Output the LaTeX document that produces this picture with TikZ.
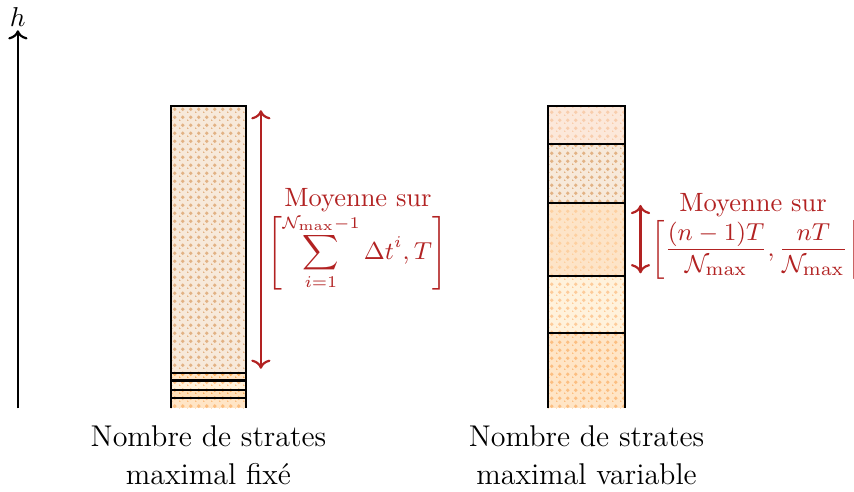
\documentclass[tikz,border=0pt]{standalone}
\usepackage{amsmath}
\usepackage{tikz}
\usetikzlibrary{arrows.meta, positioning, calc, patterns}
\definecolor{avgRed}{RGB}{178, 34, 34}
\definecolor{peachLight}{RGB}{252, 232, 218}
\definecolor{beigeDot}{RGB}{247, 233, 218}
\definecolor{bisque}{RGB}{253, 228, 200}
\definecolor{creamLight}{RGB}{255, 242, 220}
\definecolor{orangeLight}{RGB}{255, 229, 198}
\definecolor{orangeMid}{RGB}{255, 224, 184}
\definecolor{tanDot}{RGB}{226, 178, 132}
\definecolor{orangeDot}{RGB}{252, 190, 128}
\definecolor{orangeStrong}{RGB}{248, 172, 90}
\definecolor{paleDot}{RGB}{248, 205, 172}

% staggered dots, a little larger than crosshatch dots
\pgfdeclarepatternformonly{stratedots}{\pgfpointorigin}{\pgfqpoint{3pt}{3pt}}{\pgfqpoint{3pt}{3pt}}{
    \pgfpathcircle{\pgfqpoint{0pt}{0pt}}{.75pt}
    \pgfpathcircle{\pgfqpoint{1.5pt}{1.5pt}}{.75pt}
    \pgfusepath{fill}
}

\begin{document}
\begin{tikzpicture}[
    strate/.style 2 args={
        fill=#1,
        postaction={pattern=stratedots, pattern color=#2}
    },
    border/.style={
        draw=black,
        thick
    },
    measure/.style={
        <->,
        thick,
        color=avgRed
    },
    avgtext/.style={
        text=avgRed,
        align=center,
        font=\fontsize{9.7}{11.5}\selectfont
    },
    colcaption/.style={
        align=center,
        font=\fontsize{11}{14}\selectfont
    }
]
\useasboundingbox (0,0) rectangle (11,6.33);

% Height axis
\coordinate (hbase) at (0.23,1.07);
\coordinate (htop) at (0.23,5.94);
\draw[thick, ->] (hbase) -- (htop) node[above, inner sep=1pt] (hlabel) {$h$};

% Fixed maximum: strata
\path[strate={orangeLight}{orangeDot}] (2.20,1.07) rectangle (3.17,1.20);
\path[strate={orangeMid}{orangeStrong}] (2.20,1.20) rectangle (3.17,1.31);
\path[strate={creamLight}{orangeDot}] (2.20,1.31) rectangle (3.17,1.43);
\path[strate={orangeLight}{orangeStrong}] (2.20,1.43) rectangle (3.17,1.53);
\path[strate={beigeDot}{tanDot}] (2.20,1.53) rectangle (3.17,4.96);
\draw[border] (2.20,1.07) -- (2.20,4.96) -- (3.17,4.96) -- (3.17,1.07);
\draw[border] (2.20,1.20) -- (3.17,1.20);
\draw[border] (2.20,1.31) -- (3.17,1.31);
\draw[border] (2.20,1.43) -- (3.17,1.43);
\draw[border] (2.20,1.53) -- (3.17,1.53);
\coordinate (fixbottom) at (2.685,1.07);

% Variable maximum: strata
\path[strate={orangeLight}{orangeDot}] (7.06,1.07) rectangle (8.05,2.04);
\path[strate={creamLight}{orangeDot!80}] (7.06,2.04) rectangle (8.05,2.77);
\path[strate={bisque}{bisque!80!orange}] (7.06,2.77) rectangle (8.05,3.72);
\path[strate={beigeDot}{tanDot}] (7.06,3.72) rectangle (8.05,4.47);
\path[strate={peachLight}{paleDot}] (7.06,4.47) rectangle (8.05,4.96);
\draw[border] (7.06,1.07) -- (7.06,4.96) -- (8.05,4.96) -- (8.05,1.07);
\draw[border] (7.06,2.04) -- (8.05,2.04);
\draw[border] (7.06,2.77) -- (8.05,2.77);
\draw[border] (7.06,3.72) -- (8.05,3.72);
\draw[border] (7.06,4.47) -- (8.05,4.47);
\coordinate (varbottom) at (7.555,1.07);

% Averaging windows
\coordinate (fixtop) at (3.36,4.91);
\coordinate (fixlow) at (3.36,1.58);
\draw[measure] (fixtop) -- (fixlow);
\coordinate (vartop) at (8.25,3.69);
\coordinate (varlow) at (8.25,2.81);
\draw[measure] (vartop) -- (varlow);

% Averaging labels
\node[avgtext, font=\fontsize{8.8}{10.5}\selectfont] (fixavg) at (4.60,3.08)
    {$\displaystyle\left[\sum_{i=1}^{\mathcal{N}_{\max}-1} \Delta t^i, T\right]$};
\node[avgtext] (fixhead) at (4.61,3.75) {Moyenne sur};
\node[avgtext, font=\fontsize{9.5}{11.5}\selectfont] (varavg) at (9.74,3.11)
    {$\displaystyle\left[\frac{(n-1)T}{\mathcal{N}_{\max}}, \frac{nT}{\mathcal{N}_{\max}}\right[$};
\node[avgtext] (varhead) at (9.70,3.69) {Moyenne sur};

% Captions
\node[colcaption, below=0.1cm of fixbottom] (fixcap) {Nombre de strates\\maximal fixé};
\node[colcaption, below=0.1cm of varbottom] (varcap) {Nombre de strates\\maximal variable};

\end{tikzpicture}
\end{document}
